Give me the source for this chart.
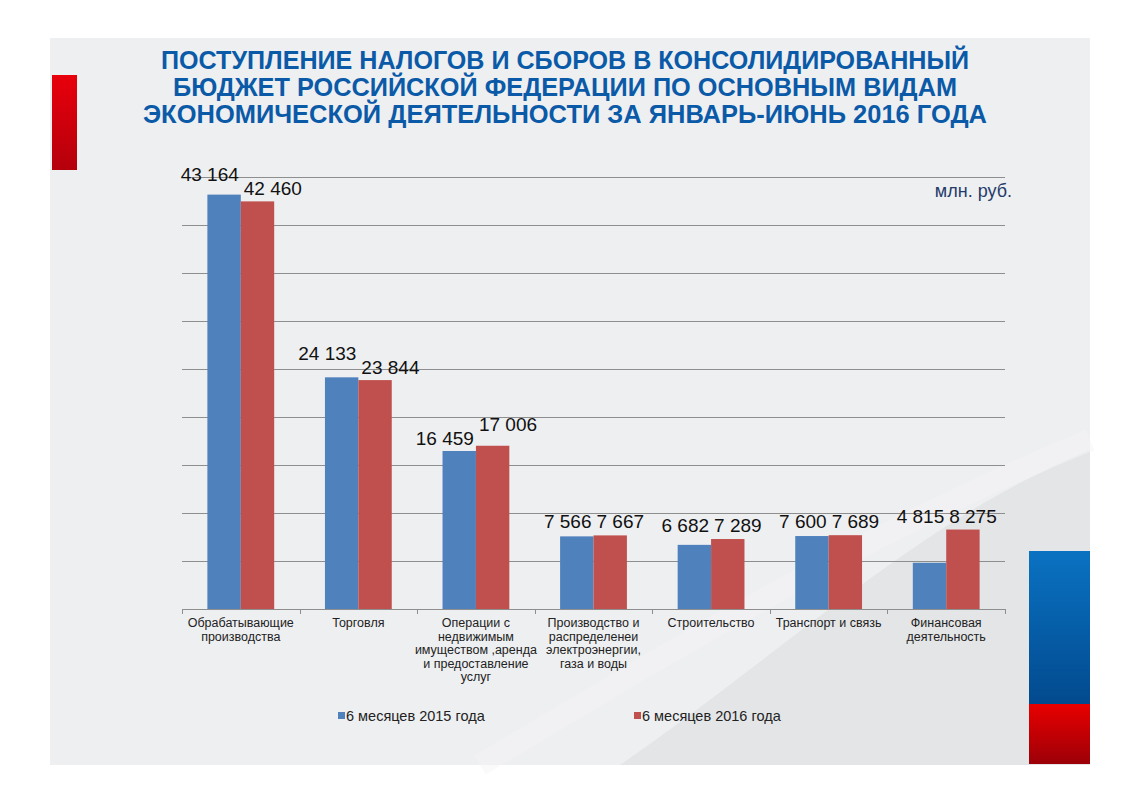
<!DOCTYPE html>
<html lang="ru">
  <head>
    <meta charset="UTF-8" />
    <title>Поступление налогов и сборов</title>
    <style>
      body {
        margin: 0;
        background: #ffffff;
      }
      svg {
        display: block;
        font-family: "Liberation Sans", Arial, sans-serif;
      }
    </style>
  </head>
  <body>
    <div id="chart"></div>

    <script src="https://cdn.jsdelivr.net/npm/d3@7"></script>
    <script>
      // Data
      const categories = [
        "Обрабатывающие\nпроизводства",
        "Торговля",
        "Операции с\nнедвижимым\nимуществом ,аренда\nи предоставление\nуслуг",
        "Производство и\nраспределенеи\nэлектроэнергии,\nгаза и воды",
        "Строительство",
        "Транспорт и связь",
        "Финансовая\nдеятельность"
      ];
      const seriesNames = ["6 месяцев 2015 года", "6 месяцев 2016 года"];
      const values2015 = [43164, 24133, 16459, 7566, 6682, 7600, 4815];
      const values2016 = [42460, 23844, 17006, 7667, 7289, 7689, 8275];
      const titleLines = [
        "ПОСТУПЛЕНИЕ НАЛОГОВ И СБОРОВ В КОНСОЛИДИРОВАННЫЙ",
        "БЮДЖЕТ РОССИЙСКОЙ ФЕДЕРАЦИИ ПО ОСНОВНЫМ ВИДАМ",
        "ЭКОНОМИЧЕСКОЙ  ДЕЯТЕЛЬНОСТИ ЗА ЯНВАРЬ-ИЮНЬ 2016 ГОДА"
      ];
      const unitLabel = "млн. руб.";

      const width = 1122;
      const height = 793;
      const colors = ["#4f81bd", "#c0504d"];

      const svg = d3
        .select("#chart")
        .append("svg")
        .attr("width", width)
        .attr("height", height);

      const defs = svg.append("defs");

      function vGradient(id, top, bottom) {
        const g = defs
          .append("linearGradient")
          .attr("id", id)
          .attr("x1", 0)
          .attr("y1", 0)
          .attr("x2", 0)
          .attr("y2", 1);
        g.append("stop").attr("offset", "0%").attr("stop-color", top);
        g.append("stop").attr("offset", "100%").attr("stop-color", bottom);
      }
      vGradient("red-left", "#e8000b", "#b4000c");
      vGradient("blue-right", "#0a72c2", "#024a8e");
      vGradient("red-right", "#e80000", "#9c0008");

      // slide background
      svg
        .append("rect")
        .attr("x", 50)
        .attr("y", 38)
        .attr("width", 1040)
        .attr("height", 727)
        .attr("fill", "#eeeff1");

      // soft swoosh in the lower right
      svg
        .append("path")
        .attr("d", "M620,765 C800,640 920,520 1090,450 L1090,765 Z")
        .attr("fill", "#e4e5e7");
      svg
        .append("path")
        .attr("d", "M480,765 C690,640 870,530 1090,440")
        .attr("fill", "none")
        .attr("stroke", "#f4f5f6")
        .attr("stroke-width", 22)
        .attr("opacity", 0.45);

      // decorative flag bars
      svg
        .append("rect")
        .attr("x", 52)
        .attr("y", 75)
        .attr("width", 25)
        .attr("height", 95)
        .attr("fill", "url(#red-left)");
      svg
        .append("rect")
        .attr("x", 1029)
        .attr("y", 551)
        .attr("width", 61)
        .attr("height", 153)
        .attr("fill", "url(#blue-right)");
      svg
        .append("rect")
        .attr("x", 1029)
        .attr("y", 704)
        .attr("width", 61)
        .attr("height", 60)
        .attr("fill", "url(#red-right)");

      // title
      const titleWidths = [808, 784, 844];
      svg
        .append("g")
        .selectAll("text")
        .data(titleLines)
        .join("text")
        .attr("x", 565)
        .attr("y", (d, i) => 69 + i * 27)
        .attr("text-anchor", "middle")
        .attr("textLength", (d, i) => titleWidths[i])
        .attr("lengthAdjust", "spacingAndGlyphs")
        .style("font-family", '"Liberation Sans Narrow", "Liberation Sans", Arial, sans-serif')
        .style("font-weight", "bold")
        .style("font-size", "25px")
        .style("fill", "#0b5aa8")
        .text((d) => d);

      // plot area
      const plot = { left: 182, right: 1005, top: 177, bottom: 609 };

      const x0 = d3
        .scaleBand()
        .domain(categories)
        .range([plot.left, plot.right]);

      const x1 = d3
        .scaleBand()
        .domain(seriesNames)
        .range([0, x0.bandwidth()])
        .paddingOuter(0.76);

      const y = d3
        .scaleLinear()
        .domain([0, 45000])
        .range([plot.bottom, plot.top]);

      // gridlines
      svg
        .append("g")
        .selectAll("line")
        .data(y.ticks(9).filter((t) => t > 0))
        .join("line")
        .attr("x1", plot.left)
        .attr("x2", plot.right)
        .attr("y1", (d) => Math.round(y(d)) + 0.5)
        .attr("y2", (d) => Math.round(y(d)) + 0.5)
        .attr("stroke", "#8e8e8e")
        .attr("stroke-width", 1);

      const rows = categories.map((c, i) => ({
        category: c,
        values: [values2015[i], values2016[i]]
      }));

      // bars
      const groups = svg
        .append("g")
        .selectAll("g")
        .data(rows)
        .join("g")
        .attr("transform", (d) => `translate(${x0(d.category)},0)`);

      groups
        .selectAll("rect")
        .data((d) => d.values.map((v, k) => ({ name: seriesNames[k], v, k })))
        .join("rect")
        .attr("x", (d) => x1(d.name))
        .attr("y", (d) => y(d.v))
        .attr("width", x1.bandwidth())
        .attr("height", (d) => y(0) - y(d.v))
        .attr("fill", (d) => colors[d.k]);

      // category axis
      const xAxis = svg
        .append("g")
        .attr("transform", `translate(0,${plot.bottom})`);
      xAxis
        .append("line")
        .attr("x1", plot.left)
        .attr("x2", plot.right)
        .attr("y1", 0.5)
        .attr("y2", 0.5)
        .attr("stroke", "#8e8e8e");
      xAxis
        .selectAll("line.tick")
        .data(categories.map((c) => x0(c)).concat([plot.right]))
        .join("line")
        .attr("class", "tick")
        .attr("x1", (d) => Math.round(d) + 0.5)
        .attr("x2", (d) => Math.round(d) + 0.5)
        .attr("y1", 0)
        .attr("y2", 5)
        .attr("stroke", "#8e8e8e");

      xAxis
        .selectAll("text.cat")
        .data(categories)
        .join("text")
        .attr("class", "cat")
        .attr("x", (d) => x0(d) + x0.bandwidth() / 2)
        .attr("y", 18)
        .attr("text-anchor", "middle")
        .style("font-size", "12.5px")
        .style("fill", "#222")
        .selectAll("tspan")
        .data((d) => d.split("\n"))
        .join("tspan")
        .attr("x", function () {
          return this.parentNode.getAttribute("x");
        })
        .attr("dy", (d, i) => (i === 0 ? 0 : 13.6))
        .text((d) => d);

      // value labels
      const fmt = d3.formatLocale({
        decimal: ",",
        thousands: " ",
        grouping: [3],
        currency: ["", ""]
      }).format(",d");

      const labels = [];
      rows.forEach((r) => {
        const base = r.values.map((v) => y(v) - 6);
        let pos;
        if (Math.min(...r.values) > 10000) {
          const hi = r.values[0] >= r.values[1] ? 0 : 1;
          pos = base.slice();
          pos[hi] = base[1 - hi] - 14;
        } else {
          const m = Math.min(base[0], base[1]) - 1;
          pos = [m, m];
        }
        r.values.forEach((v, k) => {
          labels.push({ category: r.category, v, k, yPos: pos[k] });
        });
      });

      svg
        .append("g")
        .selectAll("text")
        .data(labels)
        .join("text")
        .attr("x", (d) => x0(d.category) + x0.bandwidth() / 2 + (d.k === 0 ? -2 : 3))
        .attr("y", (d) => d.yPos)
        .attr("text-anchor", (d) => (d.k === 0 ? "end" : "start"))
        .style("font-size", "19px")
        .style("fill", "#111")
        .text((d) => fmt(d.v));

      // unit label
      svg
        .append("text")
        .attr("x", 1012)
        .attr("y", 197)
        .attr("text-anchor", "end")
        .style("font-size", "18px")
        .style("fill", "#243b6a")
        .text(unitLabel);

      // legend
      const legendX = [338, 634];
      const legend = svg
        .append("g")
        .selectAll("g")
        .data(seriesNames)
        .join("g")
        .attr("transform", (d, i) => `translate(${legendX[i]},716)`);
      legend
        .append("rect")
        .attr("x", 0)
        .attr("y", -4)
        .attr("width", 7)
        .attr("height", 7)
        .attr("fill", (d, i) => colors[i]);
      legend
        .append("text")
        .attr("x", 8)
        .attr("y", 5)
        .style("font-size", "14.5px")
        .style("fill", "#222")
        .text((d) => d);
    </script>
  </body>
</html>
